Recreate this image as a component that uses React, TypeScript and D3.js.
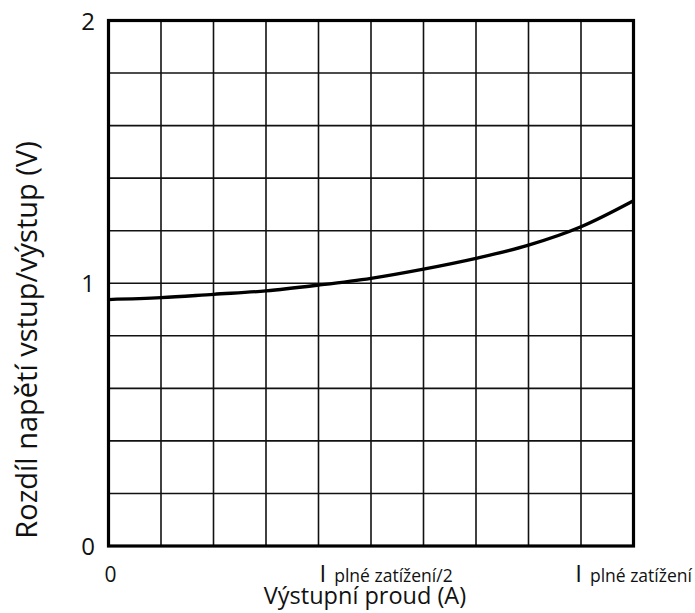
import React, { useEffect, useRef } from 'react';
import * as d3 from 'd3';

// grid positions along the current axis (10 divisions)
const currentSteps = [0, 1, 2, 3, 4, 5, 6, 7, 8, 9, 10];
// voltage difference read at each grid column
const dropoutVolts = [0.938, 0.945, 0.958, 0.971, 0.993, 1.019, 1.054, 1.095, 1.145, 1.215, 1.314];

const yTicks = [0, 1, 2];
const xTickLabels = [
  { at: 0, main: '0', sub: '' },
  { at: 4.02, main: 'I', sub: 'plné zatížení/2' },
  { at: 8.89, main: 'I', sub: 'plné zatížení' },
];

const xTitle = 'Výstupní proud (A)';
const yTitle = 'Rozdíl napětí vstup/výstup (V)';

const FONT = '"Open Sans", sans-serif';

const App: React.FC = () => {
  const svgRef = useRef<SVGSVGElement | null>(null);

  useEffect(() => {
    if (!svgRef.current) return;
    d3.select(svgRef.current).selectAll('*').remove();

    const svgWidth = 695;
    const svgHeight = 613;
    const margin = { top: 20.5, right: 61.5, bottom: 67, left: 108.5 };
    const width = svgWidth - margin.left - margin.right;
    const height = svgHeight - margin.top - margin.bottom;

    const svg = d3.select(svgRef.current)
      .attr('width', svgWidth)
      .attr('height', svgHeight);

    const g = svg.append('g')
      .attr('transform', `translate(${margin.left},${margin.top})`);

    const x = d3.scaleLinear().domain([0, 10]).range([0, width]);
    const y = d3.scaleLinear().domain([0, 2]).range([height, 0]);

    // grid
    g.append('g')
      .selectAll('line')
      .data(d3.range(1, 10))
      .enter()
      .append('line')
      .attr('x1', d => x(d))
      .attr('x2', d => x(d))
      .attr('y1', 0)
      .attr('y2', height)
      .attr('stroke', '#111')
      .attr('stroke-width', 1.6);

    g.append('g')
      .selectAll('line')
      .data(d3.range(1, 10).map(d => d * 0.2))
      .enter()
      .append('line')
      .attr('x1', 0)
      .attr('x2', width)
      .attr('y1', d => y(d))
      .attr('y2', d => y(d))
      .attr('stroke', '#111')
      .attr('stroke-width', 1.6);

    // frame
    g.append('rect')
      .attr('x', 0)
      .attr('y', 0)
      .attr('width', width)
      .attr('height', height)
      .attr('fill', 'none')
      .attr('stroke', '#000')
      .attr('stroke-width', 3.2);

    // curve
    const line = d3.line<number>()
      .x((_, i) => x(currentSteps[i]))
      .y(d => y(d))
      .curve(d3.curveMonotoneX);

    g.append('path')
      .datum(dropoutVolts)
      .attr('fill', 'none')
      .attr('stroke', '#000')
      .attr('stroke-width', 3.3)
      .attr('d', line);

    // y tick labels
    g.append('g')
      .selectAll('text')
      .data(yTicks)
      .enter()
      .append('text')
      .attr('x', -13.5)
      .attr('y', d => y(d) + 9)
      .attr('text-anchor', 'end')
      .style('font-family', FONT)
      .style('font-size', '24px')
      .style('fill', '#111')
      .text(d => String(d));

    // x tick labels
    const xl = g.append('g');
    xTickLabels.forEach(t => {
      const txt = xl.append('text')
        .attr('x', x(t.at) + (t.sub ? 0 : -4))
        .attr('y', height + 36)
        .style('font-family', FONT)
        .style('fill', '#111');
      txt.append('tspan')
        .style('font-size', t.sub ? '24px' : '21px')
        .text(t.main);
      if (t.sub) {
        txt.append('tspan')
          .attr('dx', 8)
          .style('font-size', '17.5px')
          .text(t.sub);
      }
    });

    // axis titles
    svg.append('text')
      .attr('x', 365)
      .attr('y', 604)
      .attr('text-anchor', 'middle')
      .style('font-family', FONT)
      .style('font-size', '23.5px')
      .style('fill', '#111')
      .text(xTitle);

    svg.append('text')
      .attr('transform', `translate(37,340) rotate(-90)`)
      .attr('text-anchor', 'middle')
      .style('font-family', FONT)
      .style('font-size', '29px')
      .style('fill', '#111')
      .text(yTitle);
  }, []);

  return (
    <svg ref={svgRef} style={{ position: 'absolute', left: 0, top: 0 }}></svg>
  );
};

export default App;
